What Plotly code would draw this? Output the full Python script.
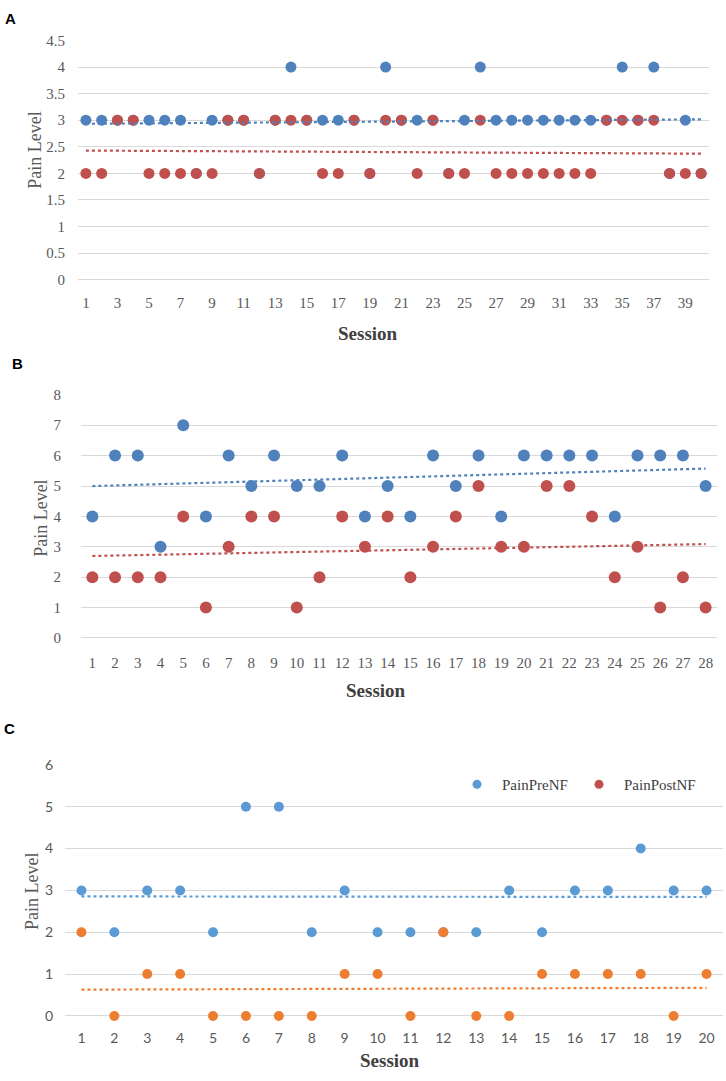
import numpy as np
import plotly.graph_objects as go

W, H = 726, 1081

# ---------------- data ----------------
sessions_a = list(range(1, 41))
pre_a = [3, 3, 3, 3, 3, 3, 3, 2, 3, 3, 3, 2, 3, 4, 3, 3, 3, 3, 2, 4,
         3, 3, 3, 2, 3, 4, 3, 3, 3, 3, 3, 3, 3, 3, 4, 3, 4, 2, 3, 2]
post_a = [2, 2, 3, 3, 2, 2, 2, 2, 2, 3, 3, 2, 3, 3, 3, 2, 2, 3, 2, 3,
          3, 2, 3, 2, 2, 3, 2, 2, 2, 2, 2, 2, 2, 3, 3, 3, 3, 2, 2, 2]
xticks_a = list(range(1, 40, 2))
yticks_a = [0, 0.5, 1, 1.5, 2, 2.5, 3, 3.5, 4, 4.5]

sessions_b = list(range(1, 29))
pre_b = [4, 6, 6, 3, 7, 4, 6, 5, 6, 5, 5, 6, 4, 5, 4, 6, 5, 6, 4, 6,
         6, 6, 6, 4, 6, 6, 6, 5]
post_b = [2, 2, 2, 2, 4, 1, 3, 4, 4, 1, 2, 4, 3, 4, 2, 3, 4, 5, 3, 3,
          5, 5, 4, 2, 3, 1, 2, 1]
xticks_b = list(range(1, 29))
yticks_b = list(range(0, 9))

sessions_c = list(range(1, 21))
pre_c = [3, 2, 3, 3, 2, 5, 5, 2, 3, 2, 2, 2, 2, 3, 2, 3, 3, 4, 3, 3]
post_c = [2, 0, 1, 1, 0, 0, 0, 0, 1, 1, 0, 2, 0, 0, 1, 1, 1, 1, 0, 1]
xticks_c = list(range(1, 21))
yticks_c = list(range(0, 7))

series_names = ["PainPreNF", "PainPostNF"]
panel_labels = ["A", "B", "C"]

# ---------------- style ----------------
BLUE_AB, RED_AB = "#4f81bd", "#c0504d"
BLUE_C, ORANGE_C = "#5b9bd5", "#ed7d31"
GRID = "#d9d9d9"
SERIF = "Liberation Serif"
SANS = "Lato"
TXT = "#595959"


def xd(x0, x1):
    return [x0 / W, x1 / W]


def yd(y0, y1):
    return [1 - y1 / H, 1 - y0 / H]


fig = go.Figure()

panels = [
    dict(s=sessions_a, pre=pre_a, post=post_a, xt=xticks_a, yt=yticks_a,
         yr=[0, 4.5], xdom=xd(78, 709), ydom=yd(32, 275), c1=BLUE_AB, c2=RED_AB,
         ms=11, font=SERIF, fs=15, xstand=12, ystand=12, ax=""),
    dict(s=sessions_b, pre=pre_b, post=post_b, xt=xticks_b, yt=yticks_b,
         yr=[0, 8], xdom=xd(81, 717), ydom=yd(392, 639), c1=BLUE_AB, c2=RED_AB,
         ms=12, font=SERIF, fs=15, xstand=14, ystand=19, ax="2"),
    dict(s=sessions_c, pre=pre_c, post=post_c, xt=xticks_c, yt=yticks_c,
         yr=[0, 6], xdom=xd(65, 723), ydom=yd(768, 1023), c1=BLUE_C, c2=ORANGE_C,
         ms=10, font=SANS, fs=14, xstand=12, ystand=11, ax="3"),
]

for p in panels:
    xa = "x" + p["ax"]
    ya = "y" + p["ax"]
    s = np.array(p["s"], dtype=float)
    for vals, col in ((p["pre"], p["c1"]), (p["post"], p["c2"])):
        fig.add_trace(go.Scatter(x=p["s"], y=vals, mode="markers", xaxis=xa, yaxis=ya,
                                 marker=dict(size=p["ms"], color=col, line=dict(width=0)),
                                 showlegend=False, cliponaxis=False))
    for vals, col in ((p["pre"], p["c1"]), (p["post"], p["c2"])):
        k, b = np.polyfit(s, np.array(vals, dtype=float), 1)
        xs = [s[0], s[-1]]
        fig.add_trace(go.Scatter(x=xs, y=[k * v + b for v in xs], mode="lines",
                                 xaxis=xa, yaxis=ya,
                                 line=dict(color=col, width=2.2, dash="dot"),
                                 showlegend=False, hoverinfo="skip"))
    n = len(p["s"])
    xkey = "xaxis" + p["ax"]
    ykey = "yaxis" + p["ax"]
    fig.layout[xkey] = dict(domain=p["xdom"], range=[0.5, n + 0.5], anchor=ya,
                            tickmode="array", tickvals=p["xt"],
                            ticktext=[str(v) for v in p["xt"]],
                            showgrid=False, zeroline=False, showline=False, ticks="",
                            ticklabelstandoff=p["xstand"],
                            tickfont=dict(family=p["font"], size=p["fs"], color=TXT))
    fig.layout[ykey] = dict(domain=p["ydom"], range=p["yr"], anchor=xa,
                            tickmode="array", tickvals=p["yt"],
                            ticktext=[("%g" % v) for v in p["yt"]],
                            showgrid=True, gridcolor=GRID, gridwidth=1,
                            zeroline=True, zerolinecolor=GRID, zerolinewidth=1,
                            showline=False, ticks="", ticklabelstandoff=p["ystand"],
                            tickfont=dict(family=p["font"], size=p["fs"], color=TXT))

# legend entries (panel C)
for name, col, lw in zip(series_names, [BLUE_C, RED_AB], [67, 85]):
    fig.add_trace(go.Scatter(x=[None], y=[None], mode="markers", name=name,
                             xaxis="x3", yaxis="y3", legendwidth=lw,
                             marker=dict(size=9, color=col), showlegend=True))

annotations = []
# panel letters
for lab, (px, py) in zip(panel_labels, [(10, 10), (17, 360), (9, 731)]):
    annotations.append(dict(text="<b>%s</b>" % lab, x=px / W, y=1 - py / H,
                            xref="paper", yref="paper", showarrow=False,
                            xanchor="center", yanchor="middle",
                            font=dict(family="Liberation Sans", size=15, color="#000000")))
# axis titles
for (px, py) in [(368, 330), (376, 692), (390, 1068)]:
    annotations.append(dict(text="<b>Session</b>", x=px / W, y=1 - py / H,
                            xref="paper", yref="paper", showarrow=False,
                            xanchor="center", yanchor="middle",
                            font=dict(family=SERIF, size=19, color="#404040")))
for (px, py) in [(35, 144), (41, 518), (32, 897)]:
    annotations.append(dict(text="Pain Level", x=px / W, y=1 - py / H, textangle=-90,
                            xref="paper", yref="paper", showarrow=False,
                            xanchor="center", yanchor="middle",
                            font=dict(family=SERIF, size=18, color=TXT)))

fig.update_layout(
    width=W, height=H,
    margin=dict(l=0, r=0, t=0, b=0),
    paper_bgcolor="white", plot_bgcolor="white",
    annotations=annotations,
    showlegend=True,
    legend=dict(orientation="h", x=452 / W, y=1 - 788 / H, xanchor="left",
                yanchor="middle", bgcolor="rgba(0,0,0,0)",
                font=dict(family=SERIF, size=15, color="#404040"),
                itemwidth=40, tracegroupgap=0),
)

post_js = (
    "document.documentElement.style.margin='0';"
    "document.documentElement.style.padding='0';"
    "document.documentElement.style.overflow='hidden';"
    "document.body.style.margin='0';"
    "document.body.style.padding='0';"
    "document.body.style.overflow='hidden';"
    "var d=document.getElementById('{plot_id}');"
    "d.style.position='absolute';d.style.left='0px';d.style.top='0px';"
)

fig.write_html("out.html", post_script=post_js,
               config={"displayModeBar": False})
